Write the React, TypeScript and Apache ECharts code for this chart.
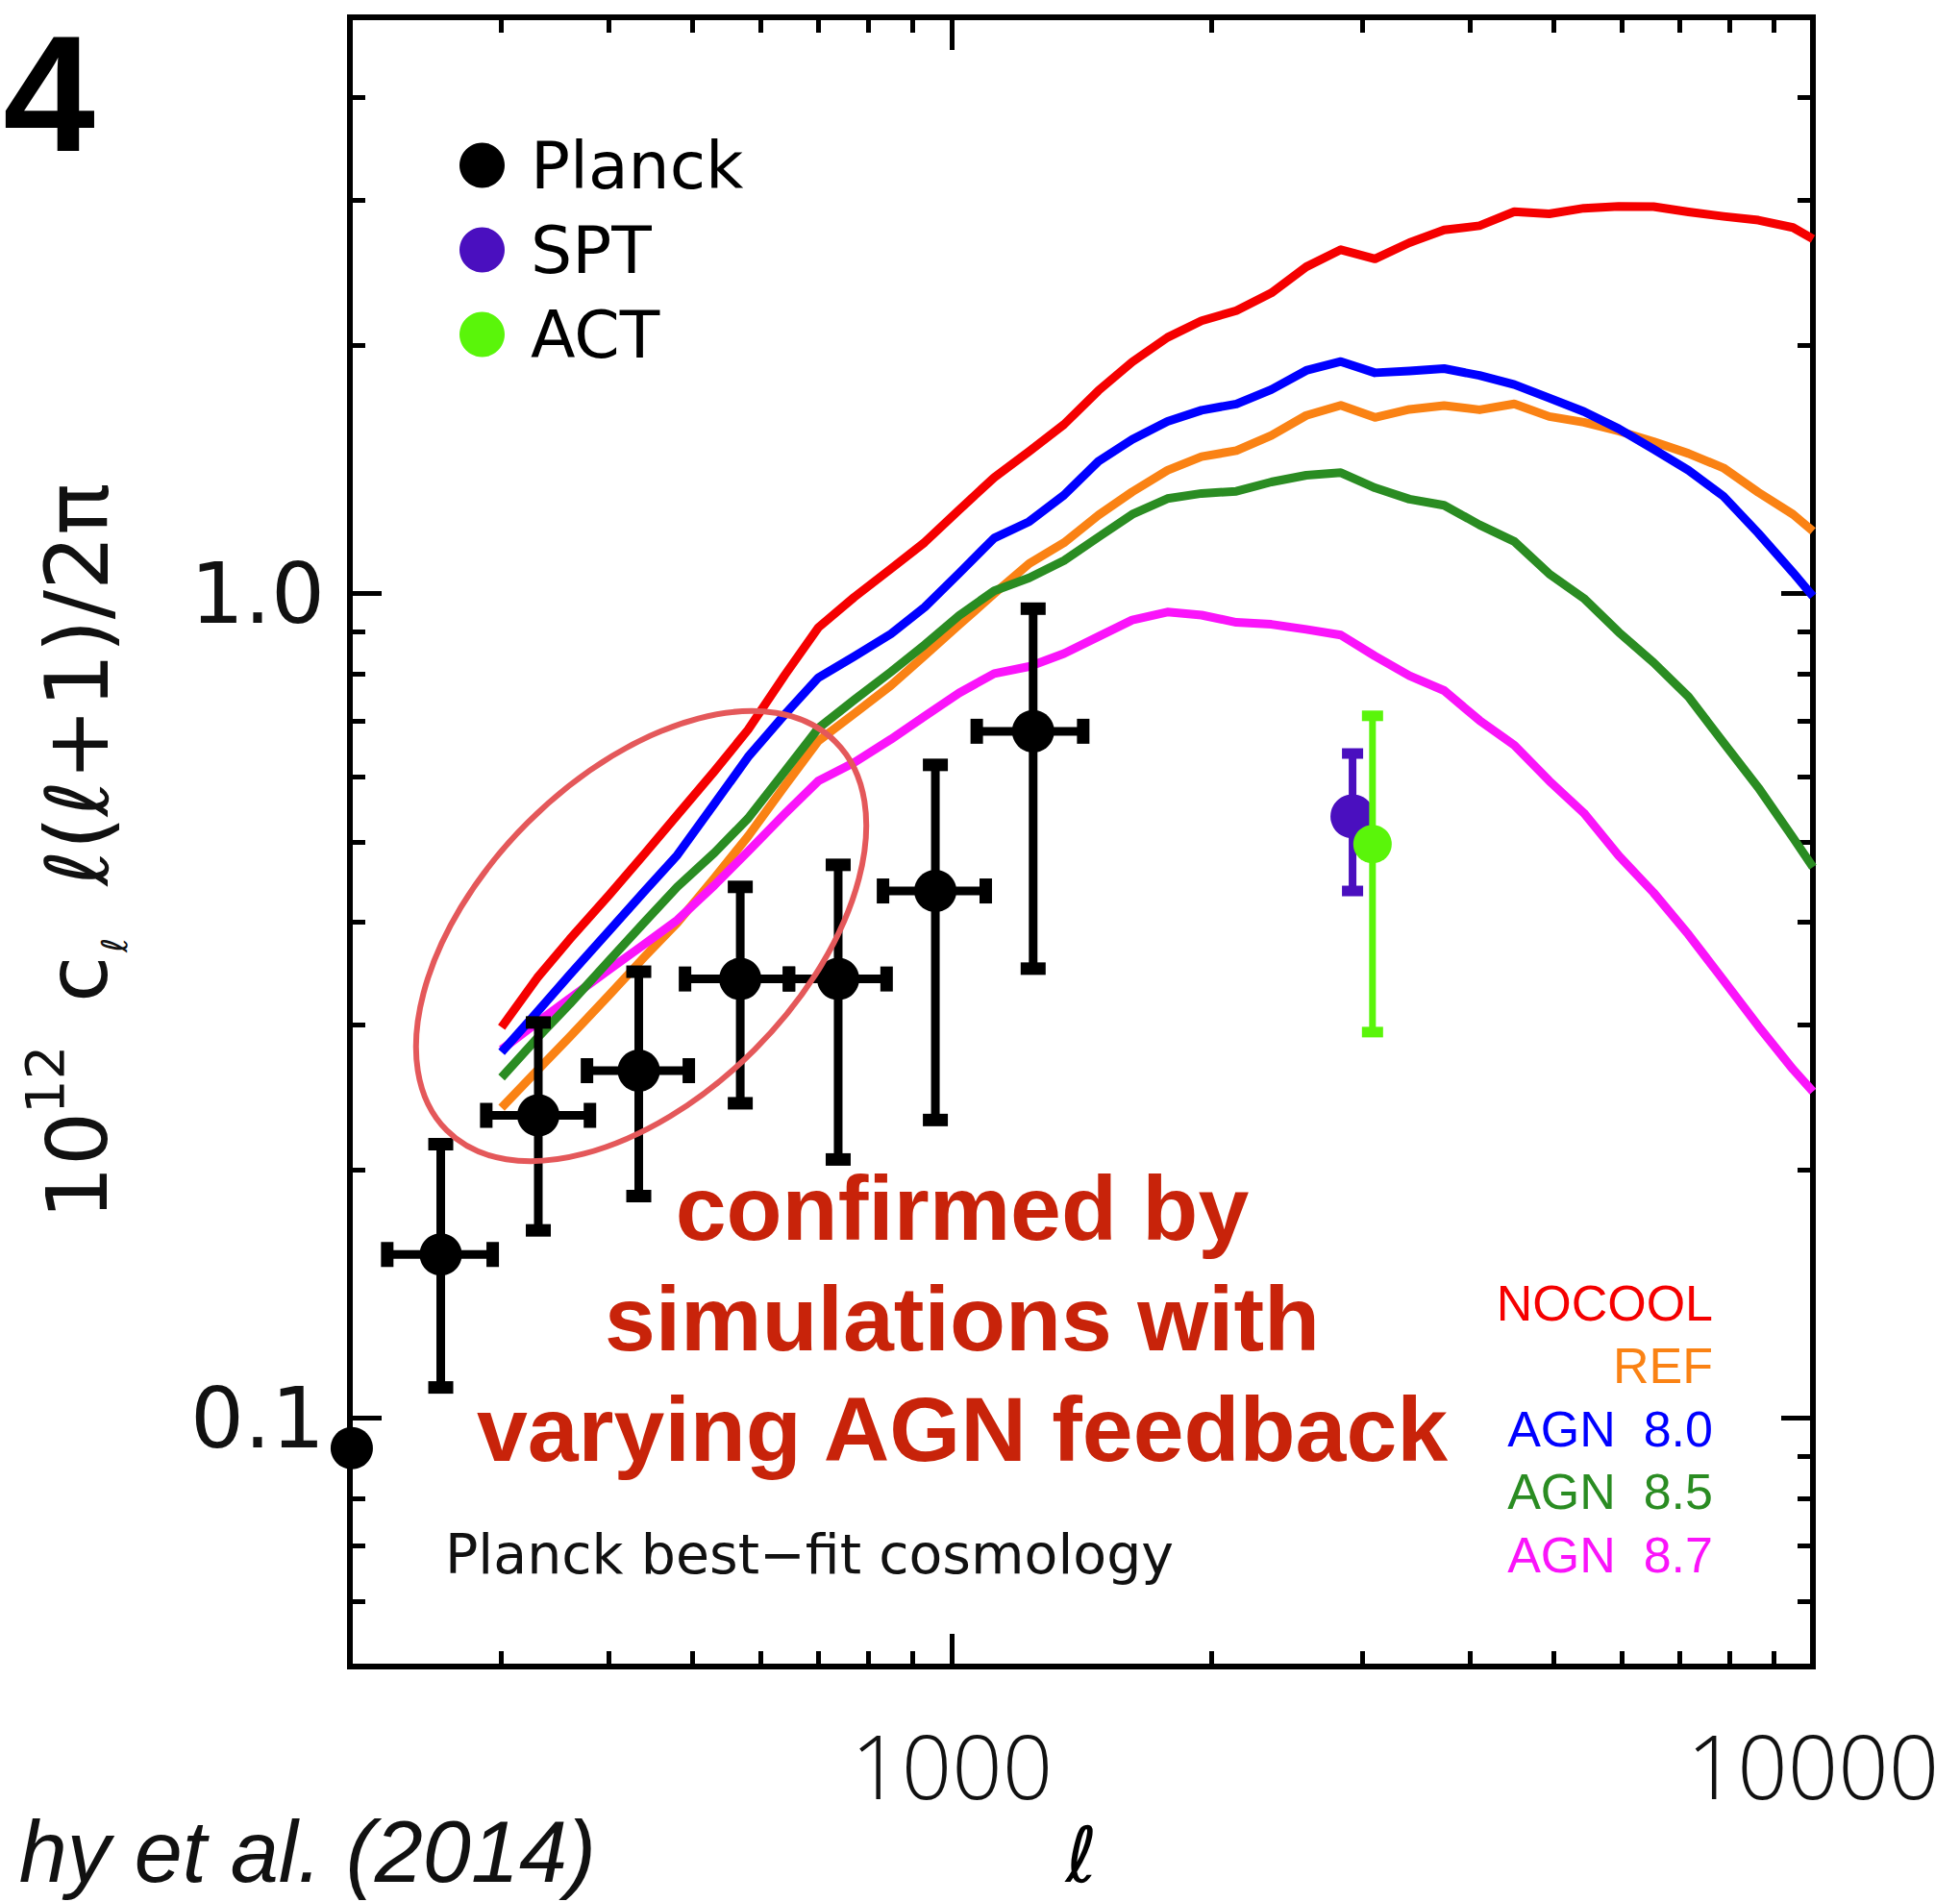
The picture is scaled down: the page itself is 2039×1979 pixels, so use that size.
import React, { useEffect, useRef } from "react";
import * as echarts from "echarts";

// ---------- data ----------
const ell = [300, 330, 360, 400, 440, 480, 530, 580, 640, 700, 770, 850, 930, 1020, 1120, 1230, 1350, 1480, 1620, 1780, 1950, 2140, 2350, 2580, 2830, 3100, 3400, 3730, 4100, 4500, 4940, 5420, 5950, 6530, 7170, 7870, 8640, 9480, 10000];

const nocool = [0.298, 0.342, 0.381, 0.431, 0.484, 0.539, 0.609, 0.684, 0.797, 0.91, 0.99, 1.072, 1.154, 1.264, 1.383, 1.488, 1.604, 1.763, 1.91, 2.045, 2.143, 2.204, 2.316, 2.491, 2.613, 2.547, 2.665, 2.761, 2.794, 2.906, 2.888, 2.934, 2.949, 2.947, 2.904, 2.868, 2.838, 2.78, 2.693];
const refModel = [0.238, 0.264, 0.29, 0.326, 0.363, 0.399, 0.452, 0.508, 0.585, 0.663, 0.715, 0.774, 0.841, 0.917, 1.0, 1.088, 1.153, 1.245, 1.329, 1.411, 1.466, 1.491, 1.555, 1.645, 1.692, 1.636, 1.673, 1.691, 1.671, 1.699, 1.64, 1.614, 1.575, 1.529, 1.479, 1.421, 1.327, 1.248, 1.191];
const agn80 = [0.278, 0.311, 0.345, 0.39, 0.436, 0.482, 0.556, 0.634, 0.714, 0.791, 0.839, 0.894, 0.963, 1.059, 1.168, 1.223, 1.317, 1.447, 1.538, 1.618, 1.669, 1.698, 1.768, 1.865, 1.912, 1.853, 1.862, 1.875, 1.839, 1.793, 1.727, 1.663, 1.585, 1.497, 1.411, 1.313, 1.184, 1.061, 0.993];
const agn85 = [0.259, 0.289, 0.318, 0.359, 0.4, 0.441, 0.485, 0.534, 0.609, 0.687, 0.743, 0.804, 0.867, 0.941, 1.008, 1.045, 1.097, 1.171, 1.248, 1.304, 1.323, 1.331, 1.366, 1.392, 1.402, 1.344, 1.302, 1.28, 1.212, 1.157, 1.057, 0.987, 0.898, 0.825, 0.75, 0.66, 0.582, 0.506, 0.466];
const agn87 = [0.28, 0.302, 0.323, 0.35, 0.376, 0.402, 0.443, 0.487, 0.541, 0.593, 0.624, 0.666, 0.71, 0.758, 0.8, 0.816, 0.846, 0.887, 0.929, 0.95, 0.942, 0.923, 0.918, 0.905, 0.891, 0.84, 0.795, 0.763, 0.702, 0.655, 0.593, 0.542, 0.481, 0.434, 0.386, 0.34, 0.299, 0.265, 0.249];

const planckL = [255, 331, 433, 568, 738, 957, 1243];
const planckLLo = [221, 288, 377, 490, 647, 832, 1069];
const planckLHi = [293, 380, 495, 647, 840, 1095, 1421];
const planckV = [0.158, 0.233, 0.264, 0.341, 0.341, 0.436, 0.681];
const planckVLo = [0.109, 0.169, 0.186, 0.241, 0.206, 0.23, 0.351];
const planckVHi = [0.215, 0.302, 0.348, 0.441, 0.469, 0.62, 0.959];
const planckEdgeL = [201];
const planckEdgeV = [0.092];

const sptL = [2920];
const sptV = [0.537];
const sptVLo = [0.436];
const sptVHi = [0.64];

const actL = [3080];
const actV = [0.497];
const actVLo = [0.294];
const actVHi = [0.711];

const xMinorTicks = [300, 400, 500, 600, 700, 800, 900, 2000, 3000, 4000, 5000, 6000, 7000, 8000, 9000];
const xMajorTicks = [1000];
const xTickLabels = [1000, 10000];
const yMinorTicks = [0.06, 0.07, 0.08, 0.09, 0.2, 0.3, 0.4, 0.5, 0.6, 0.7, 0.8, 0.9, 2, 3, 4];
const yMajorTicks = [0.1, 1];
const yTickLabels = [0.1, 1];

const modelNames = ["NOCOOL", "REF", "AGN  8.0", "AGN  8.5", "AGN  8.7"];
const modelColors = ["#f50000", "#fa8214", "#0000ff", "#2a8c22", "#fa14fa"];
const modelZ = [6, 2, 5, 4, 3];

// ---------- helpers ----------
function errRender(color: string, bar: number, capW: number, capT: number, r: number) {
  return (params: any, api: any) => {
    const x = api.value(0);
    const y = api.value(1);
    const yLo = api.value(2);
    const yHi = api.value(3);
    const xLo = api.value(4);
    const xHi = api.value(5);
    const c = api.coord([x, y]);
    const children: any[] = [];
    if (yLo !== yHi) {
      const t = api.coord([x, yHi]);
      const b = api.coord([x, yLo]);
      children.push({ type: "line", shape: { x1: c[0], y1: t[1], x2: c[0], y2: b[1] }, style: { stroke: color, lineWidth: bar } });
      children.push({ type: "rect", shape: { x: c[0] - capW / 2, y: t[1] - capT / 2, width: capW, height: capT }, style: { fill: color } });
      children.push({ type: "rect", shape: { x: c[0] - capW / 2, y: b[1] - capT / 2, width: capW, height: capT }, style: { fill: color } });
    }
    if (xLo !== xHi) {
      const lft = api.coord([xLo, y]);
      const rgt = api.coord([xHi, y]);
      children.push({ type: "line", shape: { x1: lft[0], y1: c[1], x2: rgt[0], y2: c[1] }, style: { stroke: color, lineWidth: bar } });
      children.push({ type: "rect", shape: { x: lft[0] - capT / 2, y: c[1] - capW / 2, width: capT, height: capW }, style: { fill: color } });
      children.push({ type: "rect", shape: { x: rgt[0] - capT / 2, y: c[1] - capW / 2, width: capT, height: capW }, style: { fill: color } });
    }
    children.push({ type: "circle", shape: { cx: c[0], cy: c[1], r }, style: { fill: color } });
    return { type: "group", children };
  };
}

const FRAME = { color: "#000", width: 6, cap: "square" as const };
const TICK = { color: "#000", width: 5 };

function logX(extra: any) {
  return {
    type: "log",
    logBase: 10,
    min: 200,
    max: 10000,
    splitLine: { show: false },
    minorTick: { show: false },
    axisLine: { show: false },
    axisLabel: { show: false },
    axisTick: { show: false },
    ...extra,
  };
}
function logY(extra: any) {
  return {
    type: "log",
    logBase: 10,
    min: 0.05,
    max: 5,
    splitLine: { show: false },
    minorTick: { show: false },
    axisLine: { show: false },
    axisLabel: { show: false },
    axisTick: { show: false },
    ...extra,
  };
}

export default function App() {
  const ref = useRef<HTMLDivElement>(null);

  useEffect(() => {
    document.body.style.margin = "0";
    document.body.style.overflow = "hidden";
    const chart = echarts.init(ref.current!, undefined, { renderer: "svg" });

    const lineSeries = [0, 1, 2, 3, 4].map((k) => {
      const vals = [nocool, refModel, agn80, agn85, agn87][k];
      return {
        name: modelNames[k],
        type: "line",
        xAxisIndex: 0,
        yAxisIndex: 0,
        showSymbol: false,
        symbol: "none",
        data: ell.map((l, i) => [l, vals[i]]),
        lineStyle: { color: modelColors[k], width: 9, join: "round" },
        itemStyle: { color: modelColors[k] },
        z: modelZ[k],
      };
    });

    const option: any = {
      animation: false,
      backgroundColor: "#ffffff",
      textStyle: { fontFamily: "DejaVu Sans" },
      grid: { left: 364, right: 153, top: 18, bottom: 245, containLabel: false, outerBoundsMode: "none" },
      legend: {
        data: ["Planck", "SPT", "ACT"],
        orient: "vertical",
        left: 478,
        top: 138,
        padding: 0,
        itemGap: 20,
        itemWidth: 47,
        itemHeight: 47,
        icon: "circle",
        selectedMode: false,
        textStyle: { fontSize: 68, fontFamily: "DejaVu Sans", color: "#000", padding: [0, 0, 0, 22] },
      },
      xAxis: [
        logX({
          position: "bottom",
          axisLine: { show: true, onZero: false, lineStyle: FRAME },
          axisTick: { show: true, inside: true, length: 16, customValues: xMinorTicks, lineStyle: TICK },
          axisLabel: {
            show: true,
            customValues: xTickLabels,
            formatter: (v: number) => String(Math.round(v)),
            margin: 56,
            fontSize: 92,
            fontFamily: "Open Sans",
            fontWeight: 300,
            color: "#111",
          },
          name: "ℓ",
          nameLocation: "middle",
          nameGap: 156,
          nameTextStyle: { fontSize: 80, fontFamily: "DejaVu Sans", color: "#000" },
        }),
        logX({
          position: "bottom",
          axisTick: { show: true, inside: true, length: 34, customValues: xMajorTicks, lineStyle: TICK },
        }),
        logX({
          position: "top",
          axisLine: { show: true, onZero: false, lineStyle: FRAME },
          axisTick: { show: true, inside: true, length: 16, customValues: xMinorTicks, lineStyle: TICK },
        }),
        logX({
          position: "top",
          axisTick: { show: true, inside: true, length: 34, customValues: xMajorTicks, lineStyle: TICK },
        }),
      ],
      yAxis: [
        logY({
          position: "left",
          axisLine: { show: true, onZero: false, lineStyle: FRAME },
          axisTick: { show: true, inside: true, length: 16, customValues: yMinorTicks, lineStyle: TICK },
          axisLabel: {
            show: true,
            customValues: yTickLabels,
            formatter: (v: number) => (v < 0.5 ? "0.1" : "1.0"),
            margin: 26,
            fontSize: 88,
            fontFamily: "DejaVu Sans",
            color: "#111",
          },
        }),
        logY({
          position: "left",
          axisTick: { show: true, inside: true, length: 33, customValues: yMajorTicks, lineStyle: TICK },
        }),
        logY({
          position: "right",
          axisLine: { show: true, onZero: false, lineStyle: FRAME },
          axisTick: { show: true, inside: true, length: 16, customValues: yMinorTicks, lineStyle: TICK },
        }),
        logY({
          position: "right",
          axisTick: { show: true, inside: true, length: 33, customValues: yMajorTicks, lineStyle: TICK },
        }),
      ],
      series: [
        ...lineSeries,
        {
          name: "Planck",
          type: "custom",
          xAxisIndex: 0,
          yAxisIndex: 0,
          itemStyle: { color: "#000" },
          encode: { x: 0, y: 1 },
          renderItem: errRender("#000", 9, 26, 13, 22),
          data: planckL.map((l, i) => [l, planckV[i], planckVLo[i], planckVHi[i], planckLLo[i], planckLHi[i]]),
          z: 20,
        },
        {
          name: "Planck",
          type: "scatter",
          xAxisIndex: 0,
          yAxisIndex: 0,
          symbol: "circle",
          symbolSize: 44,
          clip: false,
          itemStyle: { color: "#000", opacity: 1 },
          data: planckEdgeL.map((l, i) => [l, planckEdgeV[i]]),
          z: 20,
        },
        {
          name: "SPT",
          type: "custom",
          xAxisIndex: 0,
          yAxisIndex: 0,
          itemStyle: { color: "#4a0fbf" },
          encode: { x: 0, y: 1 },
          renderItem: errRender("#4a0fbf", 8, 22, 11, 23),
          data: sptL.map((l, i) => [l, sptV[i], sptVLo[i], sptVHi[i], l, l]),
          z: 21,
        },
        {
          name: "ACT",
          type: "custom",
          xAxisIndex: 0,
          yAxisIndex: 0,
          itemStyle: { color: "#5af50a" },
          encode: { x: 0, y: 1 },
          renderItem: errRender("#5af50a", 7, 22, 11, 20),
          data: actL.map((l, i) => [l, actV[i], actVLo[i], actVHi[i], l, l]),
          z: 22,
        },
      ],
      graphic: {
        elements: [
          // panel number
          {
            type: "text",
            x: 99,
            y: 97,
            style: { text: "4", fontSize: 172, fontWeight: "bold", fontFamily: "Liberation Sans", fill: "#000", align: "right", verticalAlign: "middle" },
          },
          // y-axis title, rotated
          {
            type: "group",
            x: 80,
            y: 1263,
            rotation: Math.PI / 2,
            children: [
              { type: "text", x: -6, y: 0, style: { text: "10", fontSize: 88, fontFamily: "DejaVu Sans", fill: "#111", align: "left", verticalAlign: "middle" } },
              { type: "text", x: 104, y: -34, style: { text: "12", fontSize: 56, fontFamily: "DejaVu Sans", fill: "#111", align: "left", verticalAlign: "middle" } },
              { type: "text", x: 220, y: 0, style: { text: "c", fontSize: 88, fontFamily: "DejaVu Sans", fill: "#111", align: "left", verticalAlign: "middle" } },
              { type: "text", x: 272, y: 39, style: { text: "ℓ", fontSize: 37, fontFamily: "DejaVu Sans", fill: "#111", align: "left", verticalAlign: "middle" } },
              { type: "text", x: 551, y: 0, style: { text: "ℓ(ℓ+1)/2π", fontSize: 90, fontFamily: "DejaVu Sans", fill: "#111", align: "center", verticalAlign: "middle" } },
            ],
          },
          // cosmology note
          {
            type: "text",
            x: 463,
            y: 1617,
            style: { text: "Planck best−fit cosmology", fontSize: 57, fontFamily: "DejaVu Sans", fill: "#111", align: "left", verticalAlign: "middle" },
            z: 30,
          },
          // model key
          ...modelNames.map((n, k) => ({
            type: "text",
            x: 1782,
            y: [1356, 1421, 1486.5, 1552, 1618][k],
            style: { text: n, fontSize: 52, fontFamily: "Liberation Sans", fill: modelColors[k], align: "right", verticalAlign: "middle" },
            z: 30,
          })),
          // big red annotation
          ...["confirmed by", "simulations with", "varying AGN feedback"].map((t, k) => ({
            type: "text",
            x: 1001,
            y: [1257, 1372, 1487][k],
            style: { text: t, fontSize: 95, fontWeight: "bold", fontFamily: "Liberation Sans", fill: "#c8230a", align: "center", verticalAlign: "middle" },
            z: 40,
          })),
          // hand-drawn ellipse
          {
            type: "ellipse",
            x: 667,
            y: 974,
            rotation: Math.PI / 4,
            shape: { cx: 0, cy: 0, rx: 286, ry: 167 },
            style: { fill: "none", stroke: "#e4585a", lineWidth: 6 },
            z: 50,
          },
          // citation
          {
            type: "text",
            x: 620,
            y: 1927,
            style: { text: "hy et al. (2014)", fontSize: 90, fontStyle: "italic", fontFamily: "Liberation Sans", fill: "#111", align: "right", verticalAlign: "middle" },
          },
        ],
      },
    };

    chart.setOption(option);
    return () => {
      chart.dispose();
    };
  }, []);

  return <div ref={ref} style={{ position: "absolute", left: 0, top: 0, width: 2039, height: 1979 }} />;
}
